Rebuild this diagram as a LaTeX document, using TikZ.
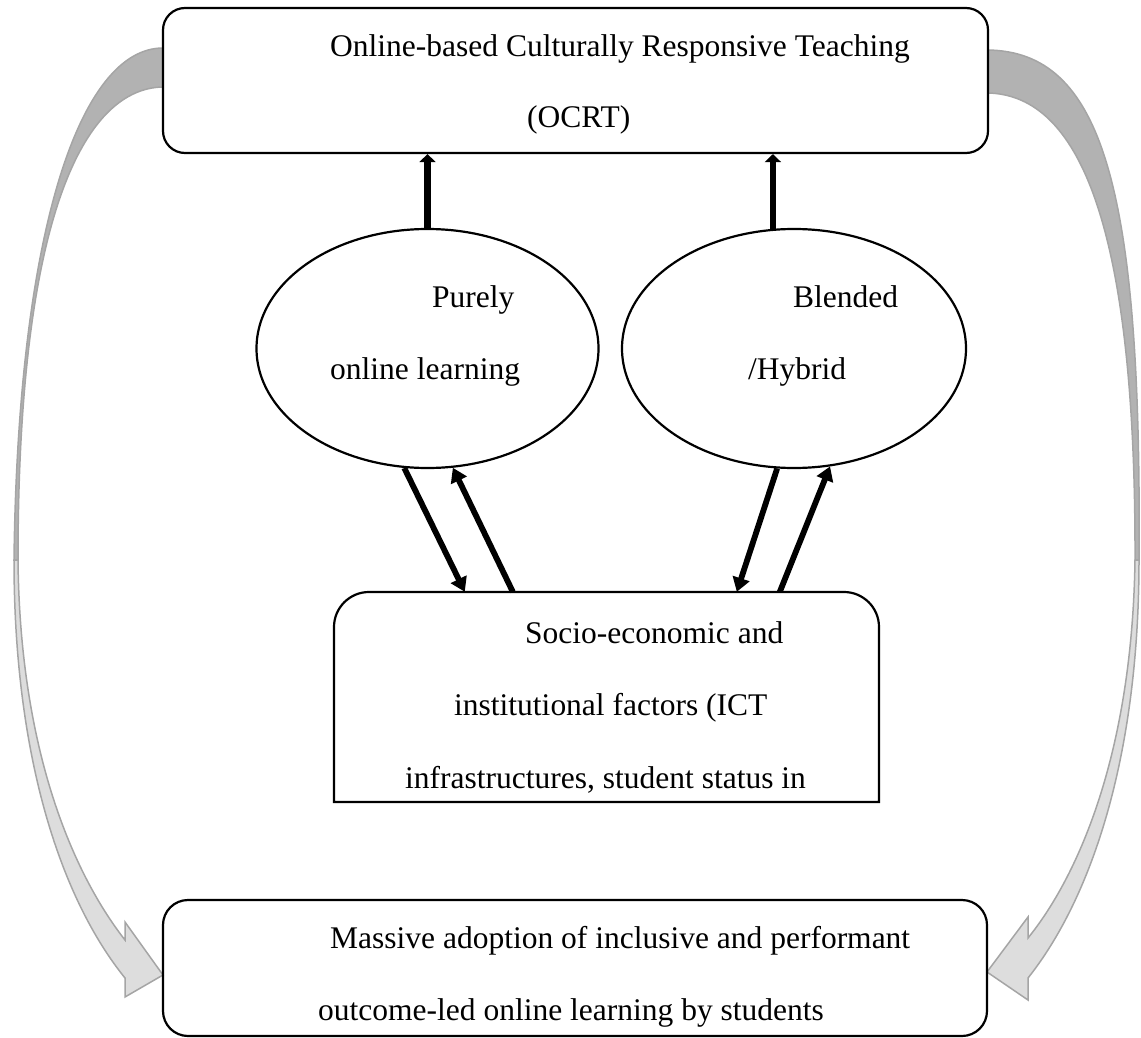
\documentclass[tikz,border=0pt]{standalone}
\usepackage{fontspec}
\setmainfont{Liberation Serif}
\usetikzlibrary{arrows.meta,shapes.geometric,calc}
\definecolor{bandDark}{RGB}{178,178,178}
\definecolor{bandLight}{RGB}{221,221,221}
\definecolor{bandEdge}{RGB}{165,165,165}
\begin{document}
\begin{tikzpicture}[x=1pt,y=-1pt,
  boxline/.style={draw, line width=2.2pt},
  lbl/.style={anchor=base west, inner sep=0pt, font=\fontsize{31.5}{38}\selectfont},
  blk/.style={line width=5.8pt, -{Triangle[length=14pt,width=17pt]}},
  upar/.style={line width=6.5pt, -{Triangle[length=8pt,width=16pt]}},
  darkband/.style={fill=bandDark, draw=bandEdge, line width=1.5pt},
  lightband/.style={fill=bandLight, draw=bandEdge, line width=1.5pt, line join=miter},
  oval/.style={draw, ellipse, line width=2.2pt, inner sep=0pt}
]
\useasboundingbox (0,0) rectangle (1141,1038);

% curved arrows (left)
\path[darkband] (163,48) .. controls (80,48) and (18,230) .. (14,560)
  -- (18,560) .. controls (18,200) and (90,88) .. (163,87) -- cycle;
\path[lightband] (14,560) .. controls (14,760) and (62,900) .. (125,978)
  -- (125,997) -- (163,975) -- (125,922) -- (125,940)
  .. controls (78,880) and (20,760) .. (18,560) -- cycle;
% curved arrows (right)
\path[darkband] (988,50) .. controls (1100,52) and (1142,180) .. (1139,560)
  -- (1135,560) .. controls (1136,200) and (1070,95) .. (988,93) -- cycle;
\path[lightband] (1139,560) .. controls (1139,760) and (1090,900) .. (1028,978)
  -- (1028,1000) -- (987,972) -- (1028,917) -- (1028,938)
  .. controls (1075,880) and (1132,760) .. (1135,560) -- cycle;

% boxes
\node[boxline, rounded corners=22pt, minimum width=825pt, minimum height=145pt] (top) at (575.5,80.5) {};
\node[boxline, rounded corners=25pt, minimum width=824pt, minimum height=136pt] (bot) at (575,968) {};
\node[minimum width=545pt, minimum height=210pt, inner sep=0pt] (soc) at (606.5,697) {};
\draw[line width=2.2pt] (334,802) -- (334,627) .. controls (334,607.7) and (349.7,592) .. (369,592)
  -- (844,592) .. controls (863.3,592) and (879,607.7) .. (879,627) -- (879,802) -- cycle;

% ellipses
\node[oval, minimum width=342pt, minimum height=239pt] (pol) at (427.5,348.5) {};
\node[oval, minimum width=344pt, minimum height=239pt] (pbl) at (794,348.5) {};

% texts
\node[lbl] (t1) at (330,57) {Online-based Culturally Responsive Teaching};
\node[lbl] (t2) at (527,128) {(OCRT)};
\node[lbl] (t3) at (432,307) {Purely};
\node[lbl] (t4) at (330,379) {online learning};
\node[lbl] (t5) at (793,307) {Blended};
\node[lbl] (t6) at (748,379) {/Hybrid};
\node[lbl] (t7) at (525,643) {Socio-economic and};
\node[lbl] (t8) at (454,715) {institutional factors (ICT};
\node[lbl] (t9) at (405,788) {infrastructures, student status in};
\node[lbl] (t10) at (330,948) {Massive adoption of inclusive and performant};
\node[lbl] (t11) at (318,1020) {outcome-led online learning by students};

% arrows to top box
\draw[upar] (pol.north) -- (pol.north |- top.south);
\draw[upar] (pbl.100) -- (pbl.100 |- top.south);

% arrows between ellipses and socio box
\draw[blk] (pol.259) -- ($(soc.north west)+(131,0)$);
\draw[blk] ($(soc.north west)+(179,0)$) -- (pol.282);
\draw[blk] (pbl.262) -- ($(soc.north west)+(403,0)$);
\draw[blk] ($(soc.north west)+(446,0)$) -- (pbl.287);
\end{tikzpicture}
\end{document}
